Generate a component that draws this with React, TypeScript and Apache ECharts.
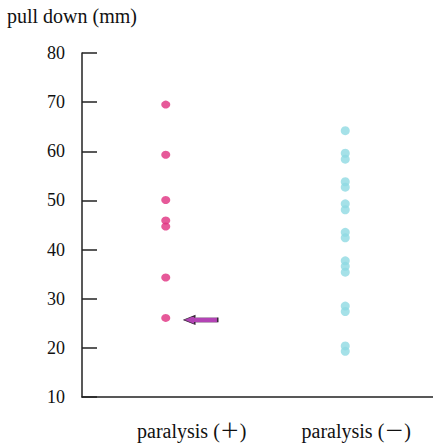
import React, { useEffect, useRef } from "react";
import * as echarts from "echarts";

const categories = ["paralysis (＋)", "paralysis (－)"];
const positiveValues = [69.5, 59.3, 50.1, 45.9, 44.7, 34.3, 26.1];
const negativeValues = [64.2, 59.6, 58.4, 53.8, 52.7, 49.3, 48.1, 43.5, 42.4, 37.7, 36.6, 35.4, 28.5, 27.4, 20.4, 19.3];
const yTitle = "pull down (mm)";
const highlighted = 26.1;

const FONT = "'Liberation Serif', 'Noto Sans CJK JP', serif";
const INK = "#111111";

export default function App() {
  const ref = useRef<HTMLDivElement>(null);
  useEffect(() => {
    const chart = echarts.init(ref.current!, null, { renderer: "svg" });
    chart.setOption({
      animation: false,
      backgroundColor: "#ffffff",
      title: {
        text: yTitle,
        left: 7,
        top: 6,
        padding: 0,
        textStyle: { fontFamily: FONT, fontSize: 20, fontWeight: "normal", color: INK },
      },
      grid: { left: 82, top: 53, right: 0, bottom: 47 },
      xAxis: {
        type: "category",
        data: categories,
        axisLine: { show: true, lineStyle: { color: "#222", width: 1.5 } },
        axisTick: { show: false },
        axisLabel: {
          interval: 0,
          hideOverlap: false,
          margin: 24,
          fontFamily: FONT,
          fontSize: 20,
          color: INK,
          formatter: (v: string) => (v === categories[0] ? `{a|${v}}` : `{b|${v}}`),
          rich: {
            a: { fontFamily: FONT, fontSize: 20, color: INK, padding: [0, 0, 0, 44] },
            b: { fontFamily: FONT, fontSize: 20, color: INK, padding: [0, 0, 0, 22] },
          },
        },
        splitLine: { show: false },
      },
      yAxis: {
        type: "value",
        min: 10,
        max: 80,
        interval: 10,
        axisLine: { show: true, lineStyle: { color: "#222", width: 1.5 } },
        axisTick: { show: true, inside: true, length: 15, lineStyle: { color: "#222", width: 1.5 } },
        axisLabel: { margin: 17, fontFamily: FONT, fontSize: 18, color: INK },
        splitLine: { show: false },
      },
      series: [
        {
          type: "scatter",
          data: positiveValues.map((v) => [categories[0], v]),
          symbol: "circle",
          symbolSize: [9, 8],
          symbolOffset: [-4, 0],
          itemStyle: { color: "#e0307f" },
          markPoint: {
            symbol: "path://M0,5L11,0L11,2.5L34,2.5L34,7.5L11,7.5L11,10Z",
            symbolSize: [34, 9],
            symbolOffset: [31, 2],
            label: { show: false },
            itemStyle: { color: "#b343b5", borderColor: "#3a2a3a", borderWidth: 0.8 },
            data: [{ coord: [categories[0], highlighted] }],
          },
        },
        {
          type: "scatter",
          data: negativeValues.map((v) => [categories[1], v]),
          symbol: "circle",
          symbolSize: 9,
          itemStyle: { color: "#8fd9e2" },
        },
      ],
    });
    return () => chart.dispose();
  }, []);
  return <div ref={ref} style={{ width: 433, height: 444, position: "absolute", left: 0, top: 0 }} />;
}
